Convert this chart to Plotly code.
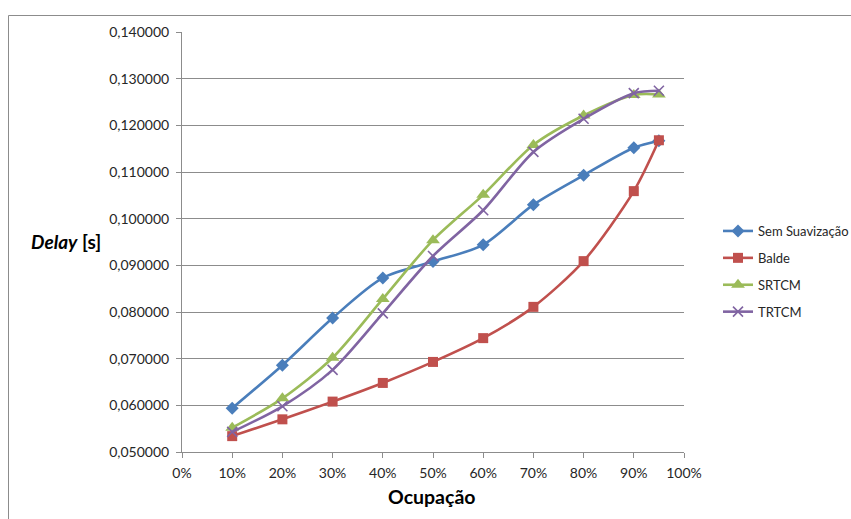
import plotly.graph_objects as go

# Ocupação (%) e atraso médio (s) por método
ocupacao = [10, 20, 30, 40, 50, 60, 70, 80, 90, 95]
sem_suavizacao = [0.0594, 0.0686, 0.0787, 0.0873, 0.0908, 0.0944, 0.1030, 0.1093, 0.1152, 0.1167]
balde = [0.0534, 0.0570, 0.0608, 0.0648, 0.0693, 0.0744, 0.0811, 0.0909, 0.1059, 0.1168]
srtcm = [0.0552, 0.0615, 0.0702, 0.0828, 0.0954, 0.1051, 0.1158, 0.1221, 0.1265, 0.1266]
trtcm = [0.0543, 0.0598, 0.0676, 0.0797, 0.0920, 0.1018, 0.1143, 0.1214, 0.1269, 0.1274]

x_ticks = [0, 10, 20, 30, 40, 50, 60, 70, 80, 90, 100]
x_labels = [f"{v}%" for v in x_ticks]
y_ticks = [0.05, 0.06, 0.07, 0.08, 0.09, 0.10, 0.11, 0.12, 0.13, 0.14]

FONT = "Lato, 'Open Sans', sans-serif"
GRID = "#8c8c8c"
TEXT = "#262626"

series = [
    ("Sem Suavização", sem_suavizacao, "#4a7ebb", dict(symbol="diamond", size=10)),
    ("Balde", balde, "#c0504d", dict(symbol="square", size=10)),
    ("SRTCM", srtcm, "#9bbb59", dict(symbol="triangle-up", size=12)),
    ("TRTCM", trtcm, "#8064a2", dict(symbol="x-thin", size=10, line=dict(width=1.6, color="#8064a2"))),
]

fig = go.Figure()
for name, ys, color, marker in series:
    fig.add_trace(go.Scatter(
        x=ocupacao, y=ys, name=name, mode="lines+markers",
        line=dict(color=color, width=2.6, shape="spline", smoothing=0.8),
        marker=dict(color=color, **marker),
        legendgroup=name,
    ))

W, H = 851, 519
L, R, T, B = 182, 684, 32, 452
pw, ph = R - L, B - T

def px(xp):
    return (xp - L) / pw

def py(yp):
    return (B - yp) / ph

fig.update_layout(
    width=W, height=H,
    margin=dict(l=L, r=W - R, t=T, b=H - B, autoexpand=False),
    paper_bgcolor="white", plot_bgcolor="white",
    separators=",.",
    font=dict(family=FONT, size=13, color=TEXT),
    showlegend=True,
    legend=dict(
        x=px(718), y=py(216), xanchor="left", yanchor="top",
        font=dict(family=FONT, size=13, color=TEXT),
        itemwidth=30, tracegroupgap=7, traceorder="grouped",
        bgcolor="rgba(0,0,0,0)",
    ),
    xaxis=dict(
        range=[0, 100], tickvals=x_ticks, ticktext=x_labels,
        showgrid=False, zeroline=False,
        showline=True, linecolor=GRID, linewidth=1,
        ticks="outside", ticklen=5, tickcolor=GRID,
        ticklabelstandoff=3,
        tickfont=dict(size=14, color=TEXT),
    ),
    yaxis=dict(
        range=[0.05, 0.14], tickvals=y_ticks, tickformat=".6f",
        showgrid=True, gridcolor=GRID, gridwidth=1, zeroline=False,
        showline=True, linecolor=GRID, linewidth=1,
        ticks="outside", ticklen=5, tickcolor=GRID,
        ticklabelstandoff=4,
        tickfont=dict(size=14, color=TEXT),
    ),
    shapes=[
        dict(type="rect", xref="paper", yref="paper",
             x0=px(8.5), x1=px(860), y0=py(530), y1=py(15.5),
             line=dict(color="#8c8c8c", width=1), fillcolor="rgba(0,0,0,0)",
             layer="below"),
    ],
    annotations=[
        dict(text="<b><i>Delay</i> [s]</b>", xref="paper", yref="paper",
             x=px(66), y=py(241), xanchor="center", yanchor="middle",
             showarrow=False, font=dict(family=FONT, size=19, color="black")),
        dict(text="<b>Ocupação</b>", xref="paper", yref="paper",
             x=px(432), y=py(496), xanchor="center", yanchor="middle",
             showarrow=False, font=dict(family=FONT, size=19.5, color="black")),
    ],
)

fig.write_html("out.html")
